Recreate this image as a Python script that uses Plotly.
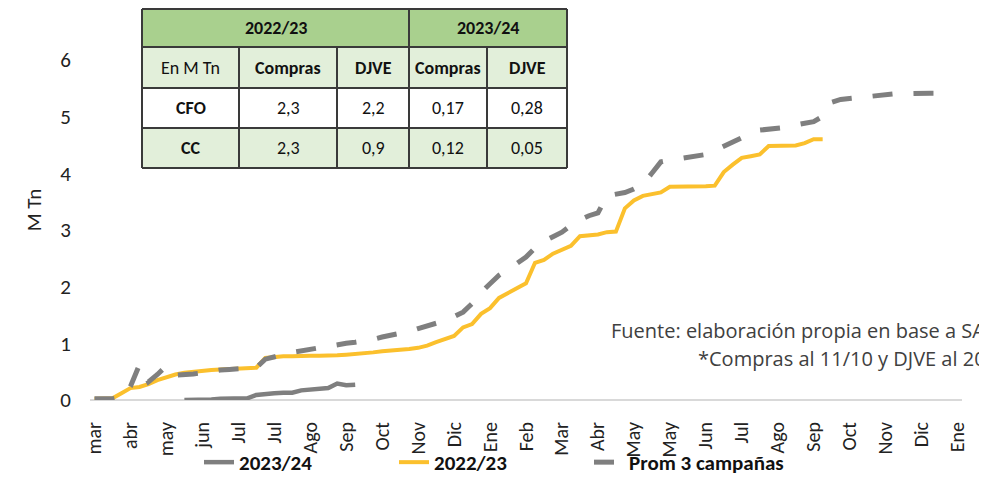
import numpy as np
import plotly.graph_objects as go

# ---------------- data ----------------
tick_labels = ["mar", "abr", "may", "jun", "Jul", "Jul", "Ago", "Sep", "Oct", "Nov", "Dic", "Ene", "Feb",
               "Mar", "Abr", "May", "May", "Jun", "Jul", "Ago", "Sep", "Oct", "Nov", "Dic", "Ene"]
n_weeks = 97
label_every = 4

# 2023/24 (starts at week 10)
s2324_start = 10
s2324 = [0.00, 0.00, 0.01, 0.01, 0.02, 0.02, 0.02, 0.03, 0.09, 0.11,
         0.12, 0.13, 0.13, 0.17, 0.19, 0.20, 0.21, 0.29, 0.26, 0.27]

# 2022/23 (starts at week 0)
s2223 = [0.02, 0.02, 0.03, 0.12, 0.21, 0.23, 0.28, 0.35, 0.40, 0.45,
         0.48, 0.50, 0.51, 0.53, 0.54, 0.55, 0.56, 0.56, 0.57, 0.74,
         0.76, 0.77, 0.77, 0.78, 0.78, 0.78, 0.78, 0.79, 0.80, 0.81,
         0.82, 0.84, 0.86, 0.87, 0.88, 0.90, 0.92, 0.96, 1.02, 1.08,
         1.13, 1.28, 1.34, 1.52, 1.62, 1.80, 1.88, 1.97, 2.06, 2.42,
         2.47, 2.58, 2.65, 2.72, 2.89, 2.90, 2.92, 2.96, 2.97, 3.38,
         3.52, 3.60, 3.63, 3.66, 3.76, 3.76, 3.76, 3.76, 3.77, 3.78,
         4.02, 4.15, 4.27, 4.30, 4.33, 4.48, 4.48, 4.48, 4.49, 4.53,
         4.60, 4.60]

# Promedio 3 campañas (starts at week 0)
prom3 = [0.02, 0.02, 0.02, 0.05, 0.24, 0.62, 0.32, 0.45, 0.60, 0.44,
         0.44, 0.46, 0.48, 0.51, 0.53, 0.54, 0.55, 0.56, 0.57, 0.72,
         0.77, 0.80, 0.84, 0.87, 0.89, 0.92, 0.95, 0.98, 1.00, 1.02,
         1.04, 1.07, 1.11, 1.14, 1.17, 1.21, 1.26, 1.30, 1.36, 1.40,
         1.47, 1.55, 1.70, 1.90, 2.05, 2.20, 2.30, 2.40, 2.52, 2.68,
         2.80, 2.88, 2.96, 3.08, 3.18, 3.25, 3.30, 3.60, 3.62, 3.66,
         3.72, 3.80, 4.00, 4.20, 4.23, 4.25, 4.27, 4.30, 4.33, 4.40,
         4.48, 4.56, 4.62, 4.70, 4.76, 4.77, 4.79, 4.81, 4.85, 4.89,
         4.91, 5.00, 5.25, 5.30, 5.32, 5.34, 5.35, 5.36, 5.38, 5.40,
         5.40, 5.41, 5.41, 5.41, 5.41]

# table
tbl_groups = ["2022/23", "2023/24"]
tbl_cols = ["En M Tn", "Compras", "DJVE", "Compras", "DJVE"]
tbl_rows = [["CFO", "2,3", "2,2", "0,17", "0,28"],
            ["CC", "2,3", "0,9", "0,12", "0,05"]]

note_lines = ["Fuente: elaboración propia en base a SAGyP",
              "*Compras al 11/10 y DJVE al 20/10"]

# ---------------- styling ----------------
PAGE_OFF = 8            # default body margin of the html page
WIN_W, WIN_H = 987, 484
W, H = WIN_W - PAGE_OFF, WIN_H - PAGE_OFF
# plot area in window pixels
PL, PR, PT, PB = 90, 962, 20, 400
ML, MR, MT, MB = PL - PAGE_OFF, WIN_W - PR, PT - PAGE_OFF, WIN_H - PB
FONT = "Carlito, Lato, 'Liberation Sans', sans-serif"
NOTE_FONT = "'Open Sans', 'Noto Sans', sans-serif"
GRAY = "#7f7f7f"
GOLD = "#fbc02d"
plot_w = PR - PL
plot_h = PB - PT
px_per_unit = 56.7
ymax = plot_h / px_per_unit


def px2x(px):
    return (px - PL) / plot_w


def py2y(py):
    return (PB - py) / plot_h


fig = go.Figure()
fig.add_trace(go.Scatter(x=np.arange(s2324_start, s2324_start + len(s2324)), y=s2324,
                         mode="lines", name="2023/24",
                         line=dict(color=GRAY, width=4.5)))
fig.add_trace(go.Scatter(x=np.arange(len(s2223)), y=s2223, mode="lines", name="2022/23",
                         line=dict(color=GOLD, width=4)))
fig.add_trace(go.Scatter(x=np.arange(len(prom3)), y=prom3, mode="lines", name="Prom 3 campañas",
                         line=dict(color=GRAY, width=5, dash="20px,21px")))

shapes = []
annotations = []

# table geometry (window pixel positions)
col_x = [142, 239, 337, 409, 487, 567]
row_y = [9, 47, 88, 128, 168]
row_fill = ["#a9d08e", "#e2efda", "#ffffff", "#e2efda"]
border = "#3a3a3a"
for r in range(4):
    shapes.append(dict(type="rect", xref="paper", yref="paper", layer="above",
                       x0=px2x(col_x[0]), x1=px2x(col_x[-1]),
                       y0=py2y(row_y[r + 1]), y1=py2y(row_y[r]),
                       fillcolor=row_fill[r], line=dict(width=0)))
for yy in row_y:
    shapes.append(dict(type="line", xref="paper", yref="paper", layer="above",
                       x0=px2x(col_x[0]), x1=px2x(col_x[-1]), y0=py2y(yy), y1=py2y(yy),
                       line=dict(color=border, width=2)))
for i, xx in enumerate(col_x):
    top = row_y[0] if i in (0, 3, 5) else row_y[1]
    shapes.append(dict(type="line", xref="paper", yref="paper", layer="above",
                       x0=px2x(xx), x1=px2x(xx), y0=py2y(row_y[-1]), y1=py2y(top),
                       line=dict(color=border, width=2)))

TXT = "#111111"
TS = 18


def cell_text(x_px, y_px, txt):
    annotations.append(dict(xref="paper", yref="paper", x=px2x(x_px), y=py2y(y_px),
                            xanchor="center", yanchor="middle", text=txt, showarrow=False,
                            font=dict(family=FONT, size=TS, color=TXT)))


grp_spans = [(col_x[0], col_x[3]), (col_x[3], col_x[5])]
for g, (a, b) in zip(tbl_groups, grp_spans):
    cell_text((a + b) / 2, (row_y[0] + row_y[1]) / 2, "<b>%s</b>" % g)
for c, name in enumerate(tbl_cols):
    cell_text((col_x[c] + col_x[c + 1]) / 2, (row_y[1] + row_y[2]) / 2,
              name if c == 0 else "<b>%s</b>" % name)
for r, row in enumerate(tbl_rows):
    for c, val in enumerate(row):
        cell_text((col_x[c] + col_x[c + 1]) / 2, (row_y[r + 2] + row_y[r + 3]) / 2,
                  "<b>%s</b>" % val if c == 0 else val)

annotations.append(dict(xref="paper", yref="paper", x=px2x(609), y=py2y(330), xanchor="left",
                        yanchor="middle", text=note_lines[0], showarrow=False,
                        font=dict(family=NOTE_FONT, size=20, color="#404040")))
annotations.append(dict(xref="paper", yref="paper", x=px2x(696), y=py2y(358), xanchor="left",
                        yanchor="middle", text=note_lines[1], showarrow=False,
                        font=dict(family=NOTE_FONT, size=20, color="#404040")))

fig.update_layout(
    width=W, height=H,
    margin=dict(l=ML, r=MR, t=MT, b=MB, autoexpand=False),
    paper_bgcolor="white", plot_bgcolor="white",
    font=dict(family=FONT, size=18, color="#222222"),
    showlegend=True,
    legend=dict(orientation="h", x=px2x(199), y=py2y(483), xanchor="left", yanchor="bottom",
                font=dict(family=FONT, size=21, color="#111111", weight="bold"),
                entrywidth=150, entrywidthmode="pixels", bgcolor="rgba(0,0,0,0)"),
    shapes=shapes, annotations=annotations,
)
fig.update_xaxes(range=[-0.5, n_weeks - 0.5], tickmode="array",
                 tickvals=list(range(0, n_weeks, label_every))[:len(tick_labels)],
                 ticktext=tick_labels, tickangle=-90, showgrid=False, zeroline=False,
                 showline=False, ticks="", ticklabelstandoff=17, automargin=False,
                 tickfont=dict(size=20, color="#222222"))
fig.update_yaxes(range=[0, ymax], tickvals=[0, 1, 2, 3, 4, 5, 6], showgrid=False,
                 zeroline=True, zerolinecolor="#d9d9d9", zerolinewidth=1.5, automargin=False,
                 showline=False, ticks="", ticklabelstandoff=18, tickfont=dict(size=21, color="#222222"),
                 title=dict(text="M Tn", font=dict(size=21, color="#222222"), standoff=12))

fig.write_html("out.html")
